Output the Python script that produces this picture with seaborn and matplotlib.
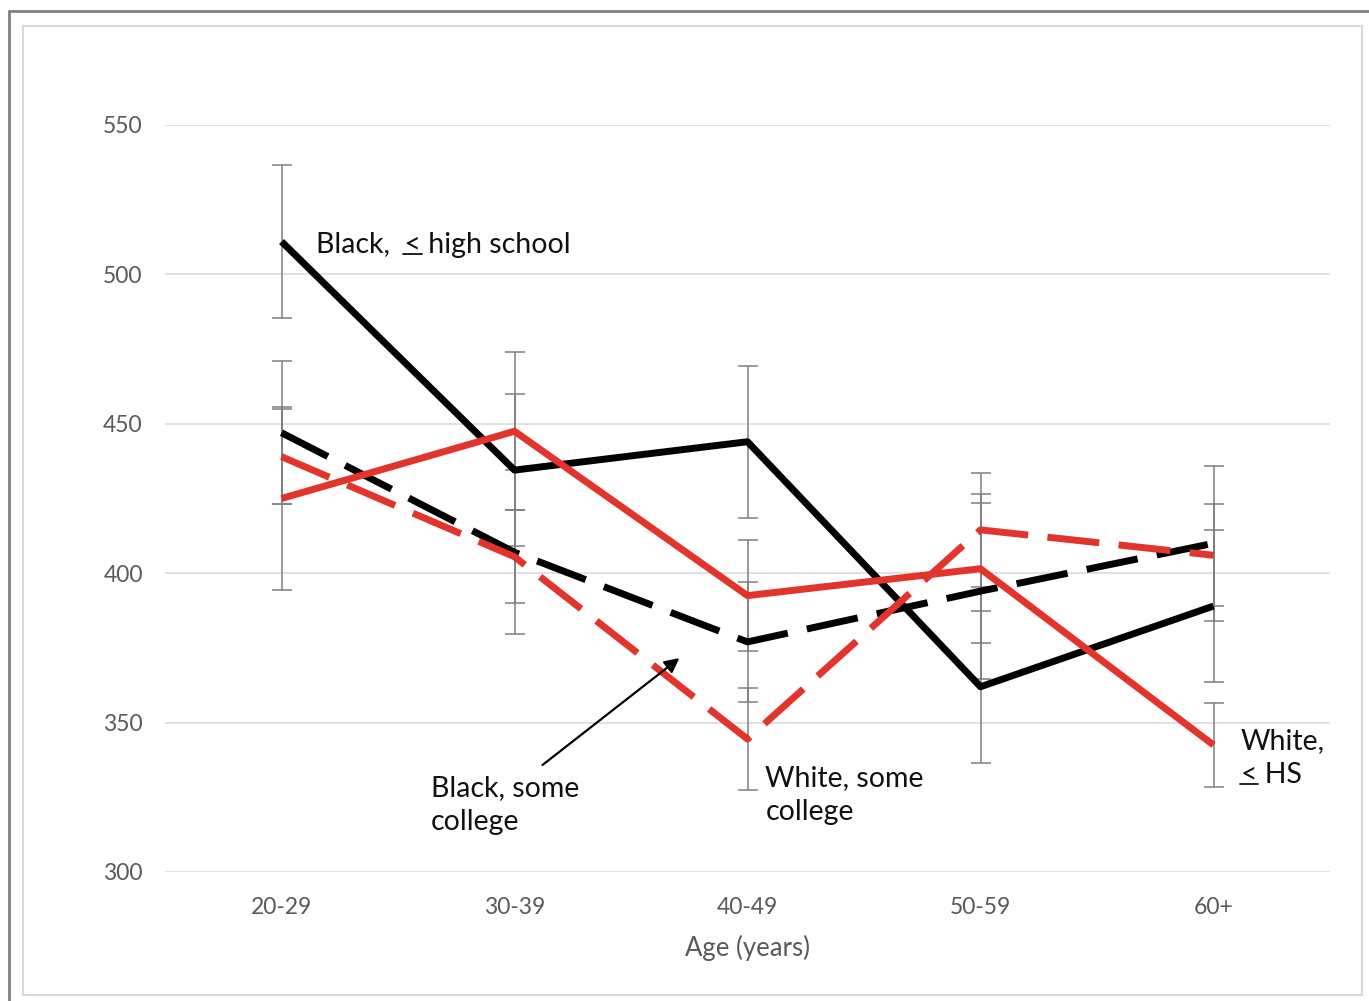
import matplotlib
matplotlib.use('Agg')
import matplotlib.pyplot as plt
import matplotlib.lines as mlines
import matplotlib.patches as mpatches
import numpy as np
import pandas as pd
import seaborn as sns

# values
ages = ['20-29', '30-39', '40-49', '50-59', '60+']
black_hs = [511, 434.5, 444, 362, 389]
black_hs_err = [25.5, 25.5, 25.5, 25.5, 25.5]
black_col = [447, 407, 377, 394, 410]
black_col_err = [24, 27.5, 20, 29.5, 26]
white_hs = [425, 447.5, 392.5, 401.5, 342.5]
white_hs_err = [30.5, 26.5, 18.5, 25, 14]
white_col = [439, 405.5, 344.5, 414.5, 406]
white_col_err = [16, 15.5, 17, 19, 17]
yticks = [300, 350, 400, 450, 500, 550]

RED = '#E3342B'
GRAY_TXT = '#595959'

sns.set_style('white')
plt.rcParams['font.family'] = ['Lato', 'DejaVu Sans']

series = [
    ('Black, < HS', black_hs, black_hs_err, 'black', '-'),
    ('Black, some college', black_col, black_col_err, 'black', '--'),
    ('White, < HS', white_hs, white_hs_err, RED, '-'),
    ('White, some college', white_col, white_col_err, RED, '--'),
]

rows = []
for name, vals, errs, col, ls in series:
    for i, (v, e) in enumerate(zip(vals, errs)):
        rows.append({'group': name, 'pos': i, 'value': v, 'err': e})
df = pd.DataFrame(rows)

fig = plt.figure(figsize=(13.69, 10.01), dpi=100)
ax = fig.add_axes([165 / 1369, 1 - 872 / 1001, 1165 / 1369, 747 / 1001])

# error bars under the lines
for name, vals, errs, col, ls in series:
    fil = df[df['group'] == name]
    ax.errorbar(fil['pos'], fil['value'], yerr=fil['err'], fmt='none',
                ecolor='#7F7F7F', elinewidth=1.1, capsize=7, capthick=1.1, zorder=2)

for name, vals, errs, col, ls in series:
    fil = df[df['group'] == name]
    line_kw = {'linewidth': 5.0, 'color': col, 'zorder': 3}
    if ls == '--':
        line_kw['dashes'] = (7.5, 2.8)
    sns.lineplot(data=fil, x='pos', y='value', ax=ax, legend=False, **line_kw)
    ax.lines[-1].set_solid_capstyle('butt')
    ax.lines[-1].set_dash_capstyle('butt')

ax.set_xlim(-0.5, 4.5)
ax.set_ylim(300, 550)
ax.set_xticks(range(len(ages)))
ax.set_xticklabels(ages)
ax.set_yticks(yticks)
ax.set_yticklabels([str(t) for t in yticks])
ax.tick_params(axis='both', length=0, labelsize=16.5, labelcolor=GRAY_TXT)
ax.tick_params(axis='y', pad=16)
ax.tick_params(axis='x', pad=18)
ax.set_ylabel('')
ax.set_xlabel('Age (years)', fontsize=18.5, color=GRAY_TXT, labelpad=12)
for sp in ax.spines.values():
    sp.set_visible(False)
ax.set_axisbelow(True)
ax.grid(axis='y', color='#D9D9D9', linewidth=1.1)
ax.grid(axis='x', visible=False)

# labels
txt_kw = {'fontsize': 20.5, 'color': '#111111', 'va': 'center', 'ha': 'left',
          'zorder': 5, 'linespacing': 1.35}
t_bhs = ax.text(0.146, 509.8, 'Black,  < high school', **txt_kw)
ax.text(0.64, 322.4, 'Black, some\ncollege', **txt_kw)
ax.text(2.077, 325.8, 'White, some\ncollege', **txt_kw)
t_whs = ax.text(4.116, 338.2, 'White,\n< HS', **txt_kw)
ax.annotate('', xy=(1.708, 371.6), xytext=(1.120, 335.8),
            arrowprops=dict(arrowstyle='-|>', color='black', lw=1.6,
                            mutation_scale=22, shrinkA=0, shrinkB=0))


def underline_lt(txt, prefix):
    # draw a short rule under the "<" sign, measured from the rendered text
    renderer = fig.canvas.get_renderer()
    bb = txt.get_window_extent(renderer)
    x, y = txt.get_position()
    probe = ax.text(x, y, prefix + '<', **txt_kw)
    probe_lt = ax.text(x, y, '<', **txt_kw)
    right = probe.get_window_extent(renderer).x1
    w = probe_lt.get_window_extent(renderer).width
    probe.remove()
    probe_lt.remove()
    yb = bb.y0 + 4
    inv = fig.transFigure.inverted()
    (fx0, fy), (fx1, _) = inv.transform([(right - w - 1, yb), (right + 1, yb)])
    fig.add_artist(mlines.Line2D([fx0, fx1], [fy, fy], color='#111111', linewidth=1.3,
                                 transform=fig.transFigure, zorder=5))


fig.canvas.draw()
underline_lt(t_bhs, 'Black,  ')
underline_lt(t_whs, '')

# chart frames
fig.add_artist(mlines.Line2D([8.5 / 1369, 1], [1 - 11 / 1001, 1 - 11 / 1001],
                             color='#808080', linewidth=2, transform=fig.transFigure))
fig.add_artist(mlines.Line2D([8.5 / 1369, 8.5 / 1369], [0, 1 - 11 / 1001],
                             color='#808080', linewidth=2, transform=fig.transFigure))
fig.add_artist(mpatches.Rectangle((23.5 / 1369, 6 / 1001), (1362 - 23.5) / 1369, (995 - 26) / 1001,
                                  fill=False, edgecolor='#D9D9D9', linewidth=1.5,
                                  transform=fig.transFigure))

fig.savefig('out.png', dpi=100, facecolor='white')
